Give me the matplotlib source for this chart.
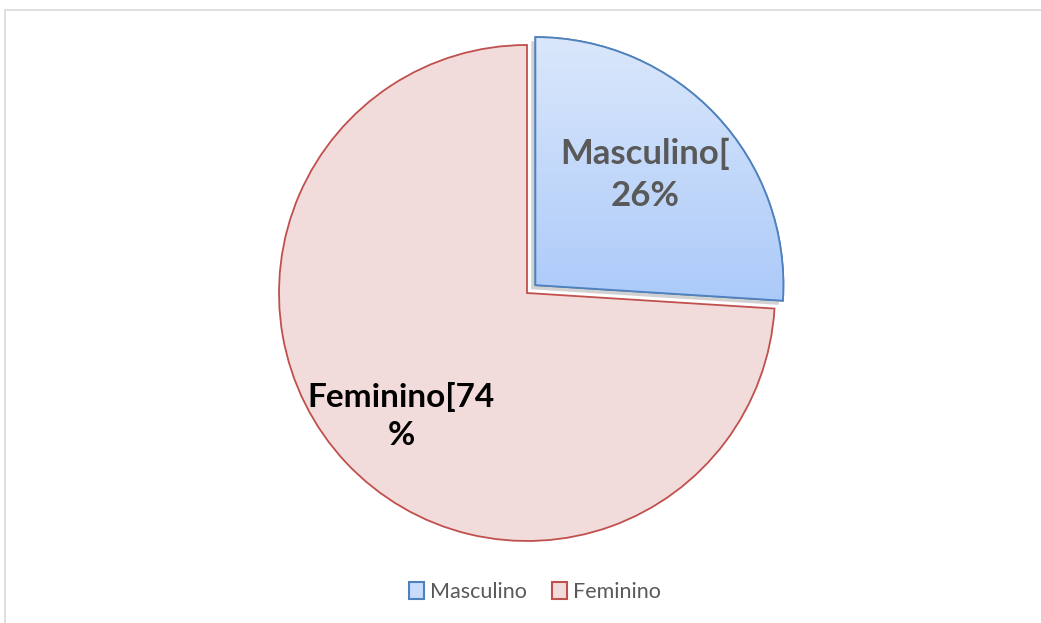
import matplotlib.pyplot as plt
import numpy as np
from matplotlib.patches import Rectangle, Patch, Wedge, Shadow
from matplotlib.colors import LinearSegmentedColormap

# data
labels = ['Masculino', 'Feminino']
values = [26, 74]
label_texts = ['Masculino[\n26%', 'Feminino[74\n%']

face_colors = ['#C9DCFB', '#F2DCDB']
edge_colors = ['#4F81BD', '#C0504D']

W, H = 1041, 623
fig = plt.figure(figsize=(W / 100, H / 100), dpi=100)
ax = fig.add_axes([0, 0, 1, 1])

# light frame around chart area
ax.add_patch(Rectangle((4.5, -10), W + 20, H - 9.5 + 10, fill=False,
                       edgecolor='#D9D9D9', linewidth=1.2))

center = (527, 330)
radius = 248
wedges, _ = ax.pie(values, explode=[11.5, 0], center=center, radius=radius,
                   startangle=90, counterclock=False, colors=face_colors,
                   wedgeprops=dict(linewidth=1.3), frame=True)
ax.set_xlim(0, W)
ax.set_ylim(0, H)
ax.set_aspect('equal')
ax.axis('off')
for w, ec in zip(wedges, edge_colors):
    w.set_edgecolor(ec)

# soft shadow under the exploded slice
w0 = wedges[0]
sh = Shadow(w0, -3, -3)
sh.set_facecolor('#9A9A9A')
sh.set_edgecolor('none')
sh.set_alpha(0.45)
sh.set_zorder(w0.get_zorder() - 0.05)
ax.add_patch(sh)

# gradient fill for Masculino slice
cmap = LinearSegmentedColormap.from_list('blue_grad', ['#DDE9FB', '#A7C7F9'])
grad = np.linspace(0, 1, 256).reshape(-1, 1)
img = ax.imshow(grad, cmap=cmap, aspect='auto',
                extent=(520, 800, 295, 600), origin='upper',
                zorder=w0.get_zorder() + 0.1)
img.set_clip_path(w0)
ax.set_xlim(0, W)
ax.set_ylim(0, H)
# redraw edge on top
edge = Wedge(w0.center, w0.r, w0.theta1, w0.theta2, fill=False,
             edgecolor=edge_colors[0], linewidth=1.3, zorder=img.get_zorder() + 0.1)
ax.add_patch(edge)

# data labels
ax.text(645, 623 - 175, label_texts[0], ha='center', va='center', fontsize=25,
        fontweight='bold', color='#595959', family='Lato', linespacing=1.4)
ax.text(401, 623 - 416, label_texts[1], ha='center', va='center', fontsize=24,
        fontweight='bold', color='black', family='Lato', linespacing=1.4)

# legend
handles = [Patch(facecolor=fc, edgecolor=ec, linewidth=1.5) for fc, ec in zip(face_colors, edge_colors)]
leg = ax.legend(handles, labels, loc='center', bbox_to_anchor=(535 / W, 1 - 592 / H),
                ncol=2, frameon=False, handlelength=0.7, handleheight=0.8,
                handletextpad=0.25, columnspacing=1.2,
                prop={'family': 'Lato', 'size': 15.5})
for t in leg.get_texts():
    t.set_color('#595959')

fig.savefig('out.png', dpi=100)
